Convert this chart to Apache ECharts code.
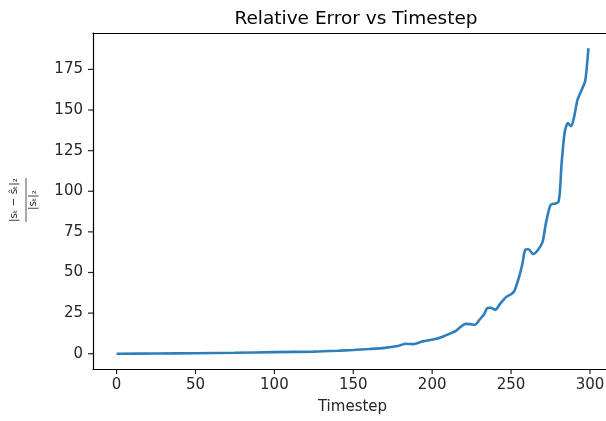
<!DOCTYPE html>
<html>
<head>
<meta charset="utf-8">
<script src="https://cdn.jsdelivr.net/npm/echarts@6/dist/echarts.min.js"></script>
<style>
  html, body { margin: 0; padding: 0; background: #fff; overflow: hidden; }
  /* the plot frame runs a few pixels past the right edge of the window */
  #chart { width: 640px; height: 421px; }
</style>
</head>
<body>
<div id="chart"></div>
<script>
// Relative error of the rollout, sampled along the timesteps
const timesteps = [0, 25, 50, 75, 100, 125, 140, 150, 160, 170, 176, 180, 183, 188, 194, 202, 207, 211, 215, 218, 221, 224, 227, 230, 233, 235, 237, 240, 243, 247, 250, 252, 255, 257, 259, 261, 264, 267, 270, 272, 275, 278, 280, 281, 282, 284, 286, 288, 290, 292, 295, 297, 299];
const relError = [0, 0.1, 0.3, 0.6, 1.0, 1.3, 1.8, 2.3, 2.9, 3.6, 4.4, 5.3, 6.1, 5.9, 7.6, 9.0, 10.6, 12.3, 14.1, 16.5, 18.4, 18.2, 17.8, 20.9, 24.5, 28.2, 28.3, 27.0, 30.7, 35.0, 36.6, 38.5, 47.0, 54.6, 64.0, 64.3, 61.4, 63.8, 69.0, 80.0, 91.5, 92.5, 93.5, 100.7, 117.0, 136.5, 142.0, 140.0, 146.0, 156.0, 163.0, 168.0, 188.0];

const xTicks = [0, 50, 100, 150, 200, 250, 300];
const yTicks = [0, 25, 50, 75, 100, 125, 150, 175];

const chartTitle = 'Relative Error vs Timestep';
const xLabel = 'Timestep';
const yLabelNum = '|s\u209C \u2212 \u015D\u209C|\u2082';
const yLabelDen = '|s\u209C|\u2082';

const FONT = 'DejaVu Sans';
const INK = '#262626';
const TICK_LEN = 5;

const chart = echarts.init(document.getElementById('chart'), null, { renderer: 'canvas' });

const xMin = -14.95, xMax = 313.95;
const yMin = -9.4, yMax = 197.4;

function spine() {
  return { show: true, onZero: false, lineStyle: { color: '#000', width: 1.2 } };
}

chart.setOption({
  animation: false,
  backgroundColor: '#ffffff',
  title: {
    text: chartTitle,
    left: 351,
    textAlign: 'center',
    top: 5,
    textStyle: { fontFamily: FONT, fontSize: 18.5, fontWeight: 'normal', color: '#000' }
  },
  grid: { left: 93, top: 33, right: 28, bottom: 52 },
  xAxis: [{
    type: 'value',
    position: 'bottom',
    min: xMin, max: xMax,
    name: xLabel,
    nameLocation: 'middle',
    nameGap: 31,
    nameTextStyle: { fontFamily: FONT, fontSize: 15, color: INK },
    axisLine: spine(),
    axisTick: { show: false },
    axisLabel: { fontFamily: FONT, fontSize: 15, color: INK, margin: 9, customValues: xTicks },
    splitLine: { show: false }
  }, {
    // top spine only
    type: 'value',
    position: 'top',
    min: xMin, max: xMax,
    axisLine: spine(),
    axisTick: { show: false },
    axisLabel: { show: false },
    splitLine: { show: false }
  }],
  yAxis: {
    type: 'value',
    min: yMin, max: yMax,
    axisLine: spine(),
    axisTick: { show: false },
    axisLabel: { fontFamily: FONT, fontSize: 15, color: INK, margin: 10, customValues: yTicks },
    splitLine: { show: false }
  },
  series: [{
    type: 'line',
    xAxisIndex: 0,
    yAxisIndex: 0,
    data: timesteps.map((t, i) => [t, relError[i]]),
    showSymbol: false,
    smooth: 0.25,
    lineStyle: { color: '#2e7ebc', width: 2.6 },
    itemStyle: { color: '#2e7ebc' }
  }]
});

// Outward tick marks, placed through the axes' own scales
const frameLeft = chart.convertToPixel({ xAxisIndex: 0 }, xMin);
const frameBottom = chart.convertToPixel({ yAxisIndex: 0 }, yMin);
const tickStyle = { stroke: INK, lineWidth: 1.2 };

const tickMarks = [];
xTicks.forEach(v => {
  const px = chart.convertToPixel({ xAxisIndex: 0 }, v);
  tickMarks.push({ type: 'line', silent: true, shape: { x1: px, y1: frameBottom, x2: px, y2: frameBottom + TICK_LEN }, style: tickStyle });
});
yTicks.forEach(v => {
  const py = chart.convertToPixel({ yAxisIndex: 0 }, v);
  tickMarks.push({ type: 'line', silent: true, shape: { x1: frameLeft - TICK_LEN, y1: py, x2: frameLeft, y2: py }, style: tickStyle });
});

// y-axis label: the ratio written as a stacked fraction, turned on its side
const yLabelGroup = {
  type: 'group',
  x: 26, y: 200,
  rotation: Math.PI / 2,
  children: [
    {
      type: 'text', x: 0, y: -6,
      style: { text: yLabelNum, font: '10.5px "DejaVu Sans"', fill: INK, align: 'center', verticalAlign: 'bottom' }
    },
    {
      type: 'line',
      shape: { x1: -22, y1: 0, x2: 22, y2: 0 },
      style: { stroke: INK, lineWidth: 0.8 }
    },
    {
      type: 'text', x: 0, y: 2,
      style: { text: yLabelDen, font: '10.5px "DejaVu Sans"', fill: INK, align: 'center', verticalAlign: 'top' }
    }
  ]
};

chart.setOption({ graphic: [yLabelGroup].concat(tickMarks) });
</script>
</body>
</html>
